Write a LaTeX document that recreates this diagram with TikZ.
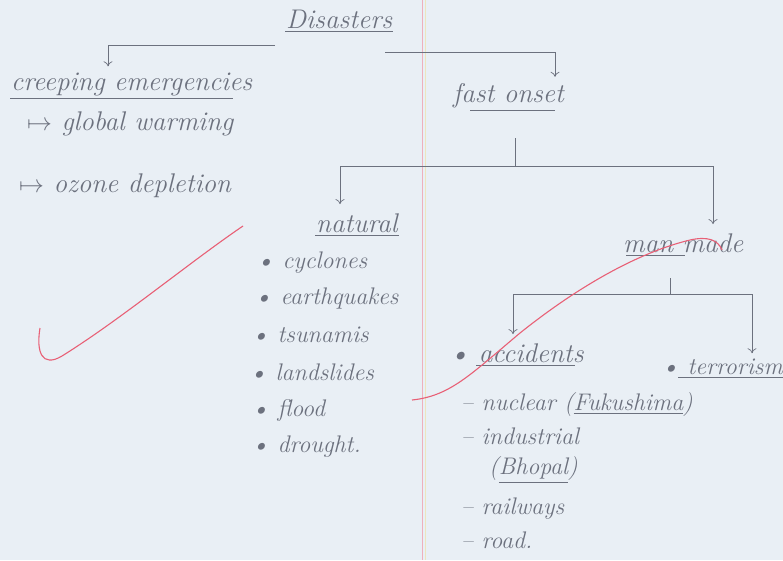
\documentclass[tikz,border=0pt]{standalone}
\usepackage{amsmath}
\usepackage{tikz}
\usetikzlibrary{calc,arrows.meta}
\definecolor{paper}{RGB}{233,239,245}
\definecolor{pencil}{RGB}{108,113,126}
\definecolor{redpen}{RGB}{232,96,118}
\definecolor{margin}{RGB}{238,176,188}
\definecolor{margin2}{RGB}{236,230,190}

\begin{document}
\begin{tikzpicture}
[x=1pt,y=-1pt,
 hw/.style={anchor=base west,inner sep=1pt,text=pencil,font=\fontsize{24}{28}\selectfont\itshape},
 head/.style={hw,font=\fontsize{27}{30}\selectfont\itshape},
 link/.style={draw=pencil,line width=0.7pt,-{To[length=5pt,width=9pt]}},
 uline/.style={draw=pencil,line width=0.7pt}]
\fill [paper] (0,0) rectangle (783,560);
\useasboundingbox (0,0) rectangle (783,560);
\draw [margin,line width=1pt] (422,0) -- (422,560);
\draw [margin2,line width=1pt] (425,0) -- (425,560);
% headings
\node (dis) at (285,28) [head] {Disasters};
\node (cre) at (10,90) [head] {creeping emergencies};
\node (gw) at (26,130) [head] {$\mapsto$ global warming};
\node (oz) at (18,192) [head] {$\mapsto$ ozone depletion};
\node (fast) at (452,102) [head] {fast onset};
\node (nat) at (315,232) [head] {natural};
\node (man) at (622,252) [head] {man made};
% natural
\node (n1) at (255,268) [hw] {\textbullet\ cyclones};
\node (n2) at (253,304) [hw] {\textbullet\ earthquakes};
\node (n3) at (250,342) [hw] {\textbullet\ tsunamis};
\node (n4) at (248,380) [hw] {\textbullet\ landslides};
\node (n5) at (250,416) [hw] {\textbullet\ flood};
\node (n6) at (250,452) [hw] {\textbullet\ drought.};
% man made
\node (acc) at (448,362) [head] {\textbullet\ accidents};
\node (ter) at (660,374) [hw] {\textbullet\ terrorism};
\node (m1) at (460,410) [hw] {-- nuclear (\underline{Fukushima})};
\node (m2) at (460,444) [hw] {-- industrial};
\node (m3) at (488,474) [hw] {(\underline{Bhopal})};
\node (m4) at (460,514) [hw] {-- railways};
\node (m5) at (460,548) [hw] {-- road.};
% underlines
\draw [uline] ([yshift=-2pt]dis.south west) -- ([yshift=-2pt]dis.south east);
\draw [uline] ([yshift=-2pt]cre.south west) -- ([xshift=-20pt,yshift=-2pt]cre.south east);
\draw [uline] ([xshift=18pt,yshift=-2pt]fast.south west) -- ([xshift=-10pt,yshift=-2pt]fast.south east);
\draw [uline] ([yshift=-2pt]nat.south west) -- ([yshift=-2pt]nat.south east);
\draw [uline] ([xshift=4pt,yshift=-2pt]man.south west) -- ([xshift=-60pt,yshift=-2pt]man.south east);
\draw [uline] ([xshift=28pt,yshift=-2pt]acc.south west) -- ([xshift=-10pt,yshift=-2pt]acc.south east);
\draw [uline] ([xshift=18pt,yshift=-2pt]ter.south west) -- ([yshift=-2pt]ter.south east);
% branches
\coordinate (d1) at (275,45);
\coordinate (d2) at (385,52);
\coordinate (f1) at (515,138);
\coordinate (f2) at (515,166);
\coordinate (m0) at (670,278);
\coordinate (mm) at (670,294);
\draw [link,shorten >=5pt] (d1) -| (108,0 |- cre.north);
\draw [link,shorten >=5pt] (d2) -| (555,0 |- fast.north);
\draw [uline] (f1) -- (f2);
\draw [link,shorten >=8pt] (f2) -| (340,0 |- nat.north);
\draw [link,shorten >=8pt] (f2) -| (713,0 |- man.north);
\draw [uline] (m0) -- (mm);
\draw [link,shorten >=8pt] (mm) -| (513,0 |- acc.north);
\draw [link,shorten >=4pt] (mm) -| (752,0 |- ter.north);
% red marks
\draw [redpen,line width=1.1pt] (40,328) .. controls (36,352) and (42,368) .. (62,356)
  .. controls (120,320) and (190,262) .. (243,226);
\draw [redpen,line width=1.1pt] (412,400) .. controls (450,396) and (470,375) .. (520,333)
  .. controls (580,285) and (640,252) .. (690,240) .. controls (708,236) and (718,240) .. (722,250);
\end{tikzpicture}
\end{document}
